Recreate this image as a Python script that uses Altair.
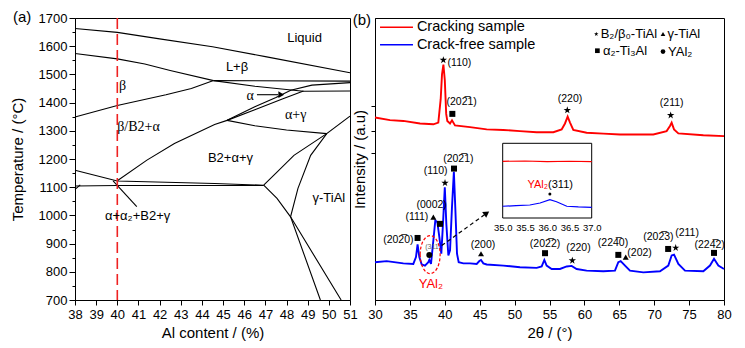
import altair as alt
import pandas as pd

# ---------------- (a) Ti-Al phase diagram: boundaries as (Al %, T degC) ----------------
liquidus    = [(38, 1663), (40, 1649), (42, 1626), (44.5, 1598), (47, 1563), (51, 1506)]
beta_upper  = [(38, 1574), (40, 1555), (41.3, 1537), (42.5, 1514), (44.55, 1478)]
beta_lower  = [(38, 1349), (40, 1390), (42.3, 1428), (43.5, 1450), (44.55, 1478)]
peritectic  = [(44.55, 1478), (51, 1476)]
alpha_top   = [(44.55, 1478), (46.5, 1458), (48.8, 1440), (51, 1441)]
lens_upper  = [(45.19, 1337), (46.5, 1385), (47.5, 1418), (48.2, 1444), (49.2, 1462), (51, 1471)]
lens_lower  = [(45.19, 1337), (46.5, 1375), (47.8, 1413), (48.8, 1441)]
ag_lower    = [(45.19, 1337), (46.5, 1318), (48, 1303), (49.9, 1290)]
b2_boundary = [(40, 1123), (41.4, 1196), (42.7, 1255), (44.6, 1322), (45.19, 1337)]
g_left      = [(49.9, 1290), (48.35, 1213), (47.5, 1150), (46.92, 1107)]
g_solvus    = [(51, 1352), (49.9, 1290), (49.14, 1213), (48.54, 1096), (48.19, 995), (49.6, 700)]
g_lower     = [(46.92, 1107), (47.55, 1060), (48.19, 995), (50.58, 700)]
eut_upper   = [(38, 1160), (40, 1122), (44.6, 1113), (46.92, 1107)]
eut_lower   = [(38, 1104), (40, 1106), (46.92, 1106)]
edge_tick   = [(38, 1092), (38.25, 1108)]
leader      = [(39.8, 1122), (40.92, 1031)]
alpha_arrow = [(46.6, 1428), (47.6, 1428)]
alpha_head  = (47.75, 1428)
sample_al   = 40

sans_labels = ["Liquid", "L+β", "B2+α+γ", "γ-TiAl", "α+α₂+B2+γ"]
sans_al     = [48.85, 45.66, 45.35, 50.0, 40.96]
sans_t      = [1628, 1525, 1202, 1060, 998]
serif_labels = ["β", "β/B2+α", "α", "α+γ"]
serif_al     = [40.25, 41.0, 46.28, 48.43]
serif_t      = [1460, 1313, 1425, 1357]

al_ticks = list(range(38, 52))
t_ticks = list(range(700, 1701, 50))

# ---------------- (b) XRD patterns ----------------
red_x = [30.0, 32.15, 34.06, 36.45, 38.36, 39.07, 39.41, 39.6, 39.8, 40.0, 40.2, 40.36, 40.75,
         41.03, 41.46, 43.61, 46.0, 48.39, 50.77, 53.16, 55.55, 56.74, 57.22, 57.6, 57.94, 58.41,
         60.32, 62.71, 65.1, 67.49, 69.87, 71.78, 72.26, 72.5, 72.84, 73.46, 77.04, 80.0]
red_y = [64.7, 63.8, 63.5, 62.6, 62.3, 62.9, 71.2, 80.0, 83.5, 78.0, 66.0, 63.5, 62.6,
         63.7, 61.9, 61.3, 60.5, 60.3, 59.9, 59.5, 59.5, 60.5, 62.6, 65.0, 62.9, 60.3,
         59.3, 59.0, 58.7, 58.7, 58.7, 59.9, 61.7, 62.9, 60.5, 59.1, 58.4, 58.1]
blue_x = [30.0, 31.67, 34.06, 35.49, 35.87, 36.1, 36.35, 36.69, 37.16, 37.64, 37.78, 38.02,
          38.36, 38.64, 38.93, 39.22, 39.5, 39.74, 40.0, 40.22, 40.51, 40.75, 41.03, 41.3,
          41.5, 41.75, 41.99, 42.66, 43.61, 44.57, 44.95, 45.19, 45.52, 46.0, 48.39, 50.77,
          53.16, 53.88, 54.26, 54.59, 55.31, 56.5, 57.46, 58.17, 58.89, 60.32, 62.71, 64.38,
          64.86, 65.2, 65.82, 66.53, 68.44, 70.83, 72.02, 72.5, 72.84, 73.46, 74.41, 77.04,
          77.99, 78.57, 79.19, 80.0]
blue_y = [13.4, 13.8, 13.0, 12.8, 15.2, 19.7, 15.2, 12.6, 12.2, 13.4, 14.2, 12.8,
          21.1, 28.2, 27.6, 22.3, 16.4, 27.0, 40.0, 27.0, 15.8, 17.6, 33.0, 45.5,
          33.0, 16.4, 13.4, 13.0, 13.0, 12.8, 13.8, 14.2, 13.0, 12.6, 12.2, 11.6,
          11.4, 11.9, 14.2, 12.2, 11.0, 11.0, 11.9, 12.1, 11.0, 10.4, 10.2, 10.4,
          13.4, 13.8, 12.2, 10.4, 9.8, 10.2, 12.2, 15.8, 16.1, 12.8, 10.4, 10.2,
          12.2, 14.6, 12.2, 11.0]
samples = ["Cracking sample", "Crack-free sample"]
sample_colors = ["#ff0000", "#0000ff"]
legend_line_x = [30.72, 35.44]
legend_row_y = [96.7, 90.5]
legend_text_x = 36.0

OB = "\u0305"  # combining overline
peak_labels = ["(110)", "(20" + "2" + OB + "1)", "(220)", "(211)",
               "(20" + "2" + OB + "0)", "(111)", "(0002)", "(110)", "(20" + "2" + OB + "1)",
               "(200)", "(20" + "2" + OB + "2)", "(220)", "(22" + "4" + OB + "0)", "(202)",
               "(20" + "2" + OB + "3)", "(211)", "(22" + "4" + OB + "2)"]
peak_label_x = [42.1, 42.42, 57.94, 72.5,
                33.34, 36.0, 38.12, 38.7, 41.94,
                45.47, 54.36, 59.14, 64.1, 67.9,
                70.6, 74.7, 77.95]
peak_label_y = [83.9, 70.3, 71.4, 69.8,
                21.4, 29.4, 33.6, 45.7, 50.1,
                19.6, 19.9, 18.5, 20.2, 16.6,
                22.3, 23.7, 19.6]

marker_kind = ["star", "square", "star", "star",
               "square", "circle", "triangle", "square", "star", "square",
               "triangle", "square", "star", "square", "triangle", "square", "star", "square"]
marker_x = [39.79, 41.08, 57.55, 72.36,
            36.1, 37.78, 38.36, 39.31, 40.03, 41.32,
            45.19, 54.36, 58.27, 64.86, 65.92, 72.0, 73.08, 78.57]
marker_y = [85.1, 66.0, 67.3, 65.5,
            22.0, 16.0, 29.4, 27.0, 41.5, 46.6,
            16.4, 16.6, 14.0, 16.0, 15.2, 18.1, 18.5, 16.7]

phase_kind = ["star", "triangle", "square", "circle"]
phase_names = ["B₂/β₀-TiAl", "γ-TiAl", "α₂-Ti₃Al", "YAl₂"]
phase_key_x = [61.7, 71.26, 61.86, 71.26]
phase_key_y = [94.3, 94.3, 88.4, 88.1]
phase_text_x = [62.33, 71.9, 62.66, 71.98]

yal_center = (37.9, 16.1)
yal_label = (38.0, 5.7)
yal_small = (38.17, 18.7)
zoom_arrow = [(39.55, 19.3), (46.0, 30.8)]

# inset (35-37 deg)
inset_red_x = [35.0, 35.5, 36.0, 36.5, 37.0]
inset_red_y = [75.9, 76.3, 75.6, 76.0, 75.5]
inset_blue_x = [35.0, 35.3, 35.61, 35.84, 36.06, 36.21, 36.44, 36.7, 37.0]
inset_blue_y = [15.7, 16.5, 17.4, 20.1, 24.5, 21.8, 15.7, 14.8, 14.3]
inset_ticks = [35.0, 35.5, 36.0, 36.5, 37.0]

FONT = "Liberation Sans"
STAR = ("M0,-1L0.225,-0.309L0.951,-0.309L0.363,0.118L0.588,0.809L0,0.382L-0.588,0.809"
        "L-0.363,0.118L-0.951,-0.309L-0.225,-0.309Z")
ELLIPSE = "M-0.526,0A0.526,1 0 1,1 0.526,0A0.526,1 0 1,1 -0.526,0Z"
SHAPES = {"star": STAR, "square": "square", "triangle": "triangle-up", "circle": "circle"}

# ====================== panel (a) ======================
boundaries = [liquidus, beta_upper, beta_lower, peritectic, alpha_top, lens_upper, lens_lower,
              ag_lower, b2_boundary, g_left, g_solvus, g_lower, eut_upper, eut_lower,
              edge_tick, leader, alpha_arrow]
rows = []
for i, b in enumerate(boundaries):
    for k, (a, t) in enumerate(b):
        rows.append({"id": i, "k": k, "al": a, "t": t})
df_lines = pd.DataFrame(rows)

xa = alt.X("al:Q", scale=alt.Scale(domain=[38, 51], nice=False),
           axis=alt.Axis(values=al_ticks, format="d", title="Al content / (%)", tickSize=5,
                         labelPadding=3, titlePadding=4))
ya = alt.Y("t:Q", scale=alt.Scale(domain=[700, 1700], nice=False),
           axis=alt.Axis(values=t_ticks, format="d", title="Temperature / (°C)",
                         labelExpr="datum.value % 100 == 0 ? datum.label : ''",
                         tickSize={"condition": {"test": "datum.value % 100 != 0", "value": 3},
                                   "value": 6},
                         labelPadding=2, titlePadding=13))

a_lines = alt.Chart(df_lines).mark_line(color="black", strokeWidth=1.1).encode(
    x=xa, y=ya, detail="id:N", order="k:Q")
a_sample = alt.Chart(pd.DataFrame({"al": [sample_al]})).mark_rule(
    color="#ee2222", strokeDash=[11, 5], strokeWidth=1.6).encode(x=xa)
a_head = alt.Chart(pd.DataFrame({"al": [alpha_head[0]], "t": [alpha_head[1]]})).mark_point(
    shape="triangle-right", size=45, filled=True, color="black", opacity=1).encode(x=xa, y=ya)
a_sans = alt.Chart(pd.DataFrame({"al": sans_al, "t": sans_t, "s": sans_labels})).mark_text(
    font=FONT, fontSize=13, color="black").encode(x=xa, y=ya, text="s:N")
a_serif = alt.Chart(pd.DataFrame({"al": serif_al, "t": serif_t, "s": serif_labels})).mark_text(
    font="Liberation Serif", fontSize=14, color="black").encode(x=xa, y=ya, text="s:N")
a_tag = alt.Chart(pd.DataFrame({"s": ["(a)"]})).mark_text(
    font=FONT, fontSize=15, align="left", baseline="middle", color="black").encode(
    x=alt.value(-62), y=alt.value(-1), text="s:N")

left = alt.layer(a_lines, a_sample, a_head, a_sans, a_serif, a_tag).properties(width=275, height=282)

# ====================== panel (b) ======================
df_xrd = pd.DataFrame(
    [{"x": x, "y": y, "sample": samples[0], "k": i} for i, (x, y) in enumerate(zip(red_x, red_y))] +
    [{"x": x, "y": y, "sample": samples[1], "k": i} for i, (x, y) in enumerate(zip(blue_x, blue_y))])

xb = alt.X("x:Q", scale=alt.Scale(domain=[30, 80], nice=False),
           axis=alt.Axis(values=list(range(30, 81, 5)), format="d", title="2θ / (°)", tickSize=5,
                         labelPadding=3, titlePadding=4))
yb = alt.Y("y:Q", scale=alt.Scale(domain=[0, 100], nice=False),
           axis=alt.Axis(values=[52.2, 59.9, 68.8], labels=False, tickSize=4,
                         title="Intensity / (a.u)", titlePadding=3))
color_b = alt.Color("sample:N", scale=alt.Scale(domain=samples, range=sample_colors), legend=None)

b_lines = alt.Chart(df_xrd).mark_line(strokeWidth=1.9).encode(x=xb, y=yb, order="k:Q", color=color_b)

df_leg = pd.DataFrame([{"x": lx, "y": ly, "sample": s}
                       for s, ly in zip(samples, legend_row_y) for lx in legend_line_x])
b_leg_lines = alt.Chart(df_leg).mark_line(strokeWidth=1.4).encode(x=xb, y=yb, color=color_b)
b_leg_text = alt.Chart(pd.DataFrame({"x": [legend_text_x] * 2, "y": legend_row_y, "s": samples})).mark_text(
    font=FONT, fontSize=14.5, align="left", color="black").encode(x=xb, y=yb, text="s:N")

b_peaklab = alt.Chart(pd.DataFrame({"x": peak_label_x, "y": peak_label_y, "s": peak_labels})).mark_text(
    font=FONT, fontSize=10.5, color="black").encode(x=xb, y=yb, text="s:N")

df_mk = pd.DataFrame({"x": marker_x, "y": marker_y, "kind": marker_kind})
b_markers = []
for kind, shp in SHAPES.items():
    sub = df_mk[df_mk.kind == kind]
    b_markers.append(alt.Chart(sub).mark_point(
        shape=shp, size=60 if kind == "star" else 36, filled=True, color="black", opacity=1,
        strokeWidth=0).encode(x=xb, y=yb))

df_key = pd.DataFrame({"x": phase_key_x, "y": phase_key_y, "kind": phase_kind})
b_keys = []
for kind, shp in SHAPES.items():
    sub = df_key[df_key.kind == kind]
    b_keys.append(alt.Chart(sub).mark_point(
        shape=shp, size=22, filled=True, color="black", opacity=1, strokeWidth=0).encode(x=xb, y=yb))
b_keytext = alt.Chart(pd.DataFrame({"x": phase_text_x, "y": phase_key_y, "s": phase_names})).mark_text(
    font=FONT, fontSize=13, align="left", color="black").encode(x=xb, y=yb, text="s:N")

b_ellipse = alt.Chart(pd.DataFrame({"x": [yal_center[0]], "y": [yal_center[1]]})).mark_point(
    shape=ELLIPSE, size=1444, filled=False, color="#ff0000", strokeDash=[3, 2], strokeWidth=1.2,
    opacity=1).encode(x=xb, y=yb)
b_yal = alt.Chart(pd.DataFrame({"x": [yal_label[0]], "y": [yal_label[1]], "s": ["YAl₂"]})).mark_text(
    font=FONT, fontSize=13, color="#ff0000").encode(x=xb, y=yb, text="s:N")
b_yal_small = alt.Chart(pd.DataFrame({"x": [yal_small[0]], "y": [yal_small[1]], "s": ["(311"]})).mark_text(
    font=FONT, fontSize=7, color="#666666").encode(x=xb, y=yb, text="s:N")
df_arrow = pd.DataFrame({"x": [p[0] for p in zoom_arrow], "y": [p[1] for p in zoom_arrow], "k": [0, 1]})
b_arrow = alt.Chart(df_arrow).mark_line(color="black", strokeDash=[4, 3], strokeWidth=1.2).encode(
    x=xb, y=yb, order="k:Q")
b_arrowhead = alt.Chart(df_arrow.iloc[[1]]).mark_point(
    shape="triangle-right", size=50, angle=325, filled=True, color="black", opacity=1).encode(x=xb, y=yb)
b_tag = alt.Chart(pd.DataFrame({"s": ["(b)"]})).mark_text(
    font=FONT, fontSize=15, align="right", baseline="middle", color="black").encode(
    x=alt.value(-4), y=alt.value(2), text="s:N")

main_b = alt.layer(b_lines, b_leg_lines, b_leg_text, b_peaklab, *b_markers, *b_keys, b_keytext,
                   b_ellipse, b_yal, b_yal_small, b_arrow, b_arrowhead, b_tag)

# inset with its own scales
xi = alt.X("ix:Q", scale=alt.Scale(domain=[35, 37], range=[127.7, 216.7], nice=False),
           axis=alt.Axis(orient="bottom", offset=-81, values=inset_ticks, format=".1f", title=None,
                         domain=False, ticks=False, labelFontSize=9.5, labelPadding=3, grid=False,
                         labelOverlap=False, labelFlush=False))
yi = alt.Y("iy:Q", scale=alt.Scale(domain=[0, 100], range=[200, 125.3], nice=False), axis=None)

i_box = alt.Chart(pd.DataFrame({"ix": [35], "ix2": [37], "iy": [0], "iy2": [100]})).mark_rect(
    fill="white", stroke="black", strokeWidth=1).encode(x=xi, x2="ix2:Q", y=yi, y2="iy2:Q")
df_in = pd.DataFrame(
    [{"ix": x, "iy": y, "s": "r", "k": i} for i, (x, y) in enumerate(zip(inset_red_x, inset_red_y))] +
    [{"ix": x, "iy": y, "s": "b", "k": i} for i, (x, y) in enumerate(zip(inset_blue_x, inset_blue_y))])
i_red = alt.Chart(df_in[df_in.s == "r"]).mark_line(color="#ff0000", strokeWidth=1.2).encode(
    x=xi, y=yi, order="k:Q")
i_blue = alt.Chart(df_in[df_in.s == "b"]).mark_line(color="#0000ff", strokeWidth=1.2).encode(
    x=xi, y=yi, order="k:Q")
i_dot = alt.Chart(pd.DataFrame({"ix": [36.06], "iy": [32.1]})).mark_point(
    shape="circle", size=9, filled=True, color="black", opacity=1).encode(x=xi, y=yi)
i_lab1 = alt.Chart(pd.DataFrame({"ix": [36.02], "iy": [44.2], "s": ["YAl₂"]})).mark_text(
    font=FONT, fontSize=11, align="right", color="#ff0000").encode(x=xi, y=yi, text="s:N")
i_lab2 = alt.Chart(pd.DataFrame({"ix": [36.02], "iy": [44.2], "s": ["(311)"]})).mark_text(
    font=FONT, fontSize=11, align="left", color="black").encode(x=xi, y=yi, text="s:N")
inset = alt.layer(i_box, i_red, i_blue, i_dot, i_lab1, i_lab2)

right = alt.layer(main_b, inset).resolve_scale(x="independent", y="independent").properties(
    width=349, height=282)

chart = alt.hconcat(left, right, spacing=-6).properties(
    padding={"left": 9, "top": 9, "right": 5, "bottom": 5}
).configure_view(stroke="black", strokeWidth=1).configure_axis(
    domainColor="black", tickColor="black", labelColor="black", titleColor="black",
    labelFont=FONT, titleFont=FONT, labelFontSize=13, titleFontSize=15,
    titleFontWeight="normal", grid=False, labelFlush=False
).configure_text(font=FONT)

chart.save("out.html", embed_options={"renderer": "svg", "actions": False})
